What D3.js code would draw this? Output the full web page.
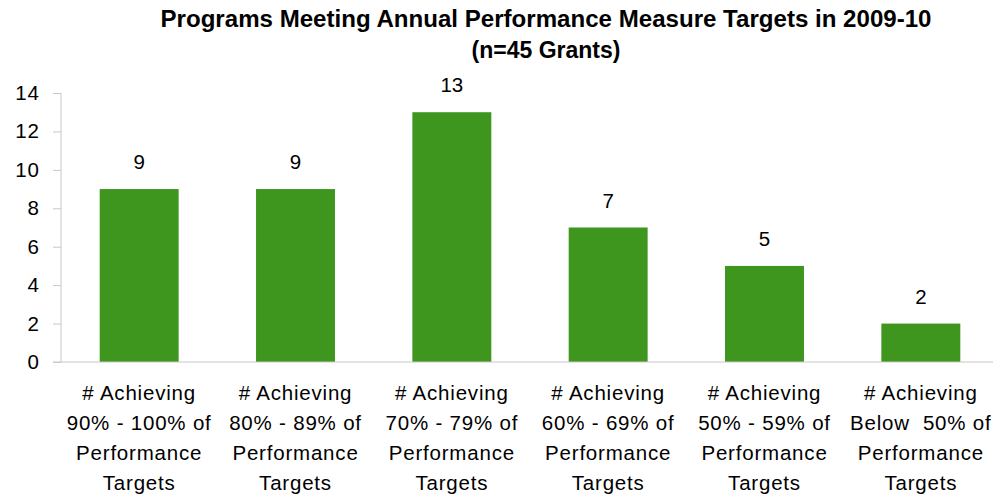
<!DOCTYPE html>
<html>
<head>
<meta charset="utf-8">
<script src="https://cdn.jsdelivr.net/npm/d3@7"></script>
<style>
  body { margin: 0; background: #fff; }
  text { font-family: "Liberation Sans", Arial, sans-serif; fill: #000; }
</style>
</head>
<body>
<div id="chart"></div>
<script>
var categories = [
  ["# Achieving", "90% - 100% of", "Performance", "Targets"],
  ["# Achieving", "80% - 89% of", "Performance", "Targets"],
  ["# Achieving", "70% - 79% of", "Performance", "Targets"],
  ["# Achieving", "60% - 69% of", "Performance", "Targets"],
  ["# Achieving", "50% - 59% of", "Performance", "Targets"],
  ["# Achieving", "Below  50% of", "Performance", "Targets"]
];
var values = [9, 9, 13, 7, 5, 2];
var yTicks = [0, 2, 4, 6, 8, 10, 12, 14];
var titleLines = ["Programs Meeting Annual Performance Measure Targets in 2009-10", "(n=45 Grants)"];

var width = 993, height = 498;

var svg = d3.select("#chart").append("svg")
    .attr("width", width)
    .attr("height", height);

var x = d3.scaleBand()
    .domain(d3.range(categories.length))
    .range([61, 999])
    .paddingInner(0.495)
    .paddingOuter(0.2475);

var y = d3.scaleLinear()
    .domain([0, 14])
    .range([362, 93]);

// title
svg.selectAll(".title")
    .data(titleLines)
    .enter().append("text")
    .attr("class", "title")
    .attr("x", 546)
    .attr("y", function(d, i) { return 27 + i * 31; })
    .attr("text-anchor", "middle")
    .attr("font-size", "23px")
    .attr("font-weight", "bold")
    .attr("textLength", function(d, i) { return i == 0 ? 771 : null; })
    .attr("lengthAdjust", "spacingAndGlyphs")
    .text(function(d) { return d; });

// y axis
var yAxis = svg.append("g")
    .attr("transform", "translate(61,0)")
    .call(d3.axisLeft(y).tickValues(yTicks).tickSize(8).tickPadding(13));
yAxis.selectAll("line").attr("stroke", "#c8c8c8");
yAxis.select(".domain").attr("stroke", "#c8c8c8").attr("d", "M0," + y(14) + "V" + y(0));
yAxis.selectAll("text")
    .attr("font-size", "20.5px")
    .attr("letter-spacing", "1px")
    .attr("font-family", "'Liberation Sans', Arial, sans-serif")
    .attr("fill", "#000");

// bars
svg.selectAll(".bar")
    .data(values)
    .enter().append("rect")
    .attr("class", "bar")
    .attr("x", function(d, i) { return x(i); })
    .attr("y", function(d) { return y(d); })
    .attr("width", x.bandwidth())
    .attr("height", function(d) { return y(0) - y(d); })
    .attr("fill", "#3e961f");

// value labels
svg.selectAll(".val")
    .data(values)
    .enter().append("text")
    .attr("class", "val")
    .attr("x", function(d, i) { return x(i) + x.bandwidth() / 2; })
    .attr("y", function(d) { return y(d) - 20; })
    .attr("text-anchor", "middle")
    .attr("font-size", "20.5px")
    .text(function(d) { return d; });

// baseline
svg.append("line")
    .attr("x1", 53).attr("x2", width)
    .attr("y1", y(0)).attr("y2", y(0))
    .attr("stroke", "#c8c8c8");

// category labels
var cat = svg.selectAll(".cat")
    .data(categories)
    .enter().append("text")
    .attr("class", "cat")
    .attr("text-anchor", "middle")
    .attr("font-size", "20.5px")
    .attr("letter-spacing", "0.8px")
    .attr("x", function(d, i) { return x(i) + x.bandwidth() / 2; });

cat.selectAll("tspan")
    .data(function(d, i) { return d.map(function(s) { return { s: s, i: i }; }); })
    .enter().append("tspan")
    .attr("x", function(d) { return x(d.i) + x.bandwidth() / 2; })
    .attr("y", function(d, j) { return 400 + j * 30; })
    .style("white-space", "pre")
    .text(function(d) { return d.s; });
</script>
</body>
</html>
